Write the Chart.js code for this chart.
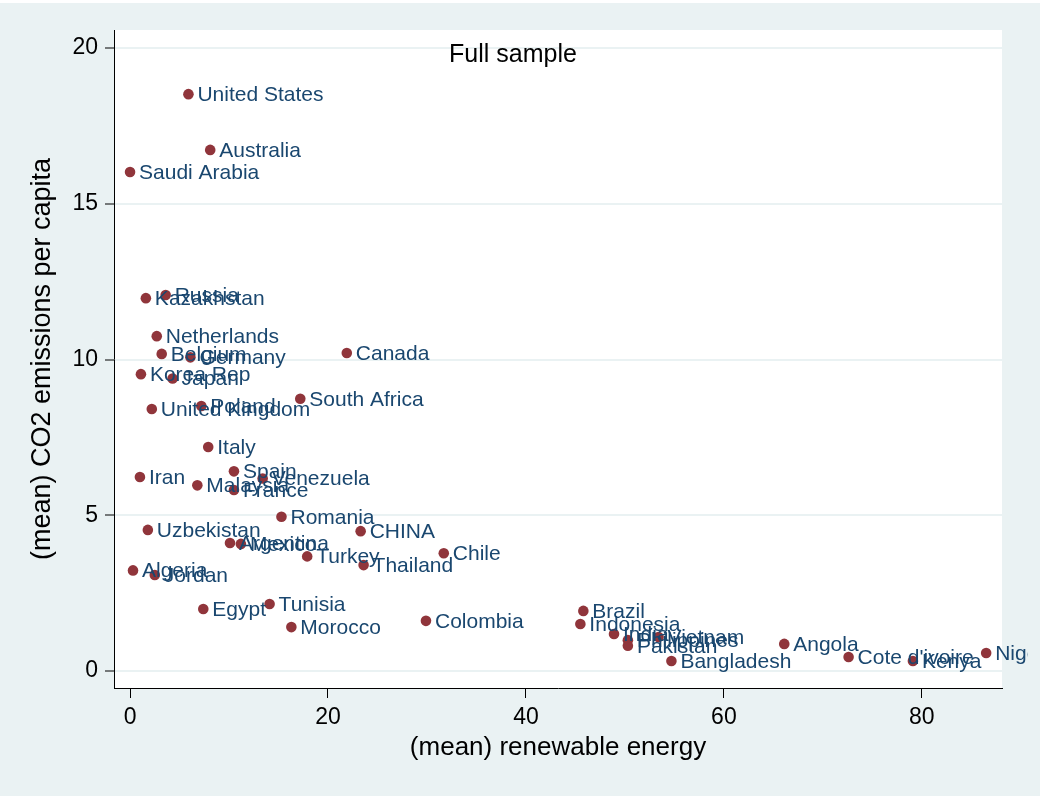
<!DOCTYPE html>
<html>
<head>
<meta charset="utf-8">
<script src="https://cdn.jsdelivr.net/npm/chart.js@4"></script>
<style>
html, body { margin: 0; padding: 0; background: #EAF2F3; }
canvas { display: block; }
</style>
</head>
<body>
<canvas id="co2Chart" width="1045" height="796"></canvas>
<script>
// country names, x = (mean) renewable energy, y = (mean) CO2 per capita
var countries = ["United States", "Australia", "Saudi Arabia", "Russia", "Kazakhstan",
  "Netherlands", "Canada", "Belgium", "Germany", "Korea Rep", "Japan", "South Africa",
  "Poland", "United Kingdom", "Italy", "Spain", "Iran", "Venezuela", "Malaysia", "France",
  "Romania", "Uzbekistan", "CHINA", "Argentina", "Mexico", "Chile", "Turkey", "Thailand",
  "Algeria", "Jordan", "Tunisia", "Egypt", "Brazil", "Colombia", "Indonesia", "Morocco",
  "India", "Vietnam", "Philippines", "Angola", "Pakistan", "Nigeria", "Cote d'ivoire",
  "Bangladesh", "Kenya"];
var renewable = [5.9, 8.1, 0.0, 3.6, 1.6,
  2.7, 21.9, 3.2, 6.1, 1.1, 4.3, 17.2,
  7.2, 2.2, 7.9, 10.5, 1.0, 13.4, 6.8, 10.5,
  15.3, 1.8, 23.3, 10.1, 11.2, 31.7, 17.9, 23.6,
  0.3, 2.5, 14.1, 7.4, 45.8, 29.9, 45.5, 16.3,
  48.9, 53.4, 50.3, 66.1, 50.3, 86.5, 72.6,
  54.7, 79.1];
var co2 = [18.52, 16.73, 16.02, 12.07, 11.97,
  10.75, 10.21, 10.18, 10.07, 9.53, 9.39, 8.74,
  8.51, 8.41, 7.19, 6.41, 6.23, 6.18, 5.96, 5.81,
  4.95, 4.53, 4.49, 4.11, 4.08, 3.78, 3.68, 3.40,
  3.23, 3.08, 2.15, 1.99, 1.93, 1.61, 1.51, 1.41,
  1.19, 1.09, 0.99, 0.87, 0.81, 0.58, 0.45,
  0.32, 0.32];
var xTicks = [0, 20, 40, 60, 80];
var yTicks = [0, 5, 10, 15, 20];

var FONT = "'Liberation Sans', Arial, Helvetica, sans-serif";

var points = [];
for (var i = 0; i < countries.length; i++) {
  points.push({ x: renewable[i], y: co2[i], name: countries[i] });
}

var bgPlugin = {              // graph region + plot region background
  id: 'bg',
  beforeDraw: function (chart) {
    var c = chart.ctx, a = chart.chartArea;
    c.save();
    c.fillStyle = '#EAF2F3';
    c.fillRect(0, 0, chart.width, chart.height);
    c.fillStyle = '#FFFFFF';
    c.fillRect(0, 0, chart.width, 3);
    c.fillRect(chart.width - 5, 0, 5, chart.height);
    c.fillRect(a.left, a.top, a.right - a.left, a.bottom - a.top);
    c.restore();
  }
};

var labelPlugin = {           // marker labels at 3 o'clock
  id: 'mlabels',
  afterDatasetsDraw: function (chart) {
    var c = chart.ctx;
    var meta = chart.getDatasetMeta(0);
    c.save();
    c.beginPath();
    c.rect(0, 0, 1028, chart.height);
    c.clip();
    c.font = '21px ' + FONT;
    c.fillStyle = '#1A476F';
    c.textAlign = 'left';
    c.textBaseline = 'middle';
    meta.data.forEach(function (pt, i) {
      c.fillText(points[i].name, pt.x + 9, pt.y + 1);
    });
    c.restore();
  }
};

var titlePlugin = {           // "Full sample" inside the plot
  id: 'innerTitle',
  afterDraw: function (chart) {
    var c = chart.ctx;
    c.save();
    c.font = '25px ' + FONT;
    c.fillStyle = '#000000';
    c.textAlign = 'center';
    c.textBaseline = 'middle';
    c.fillText('Full sample', 513, 55);
    c.restore();
  }
};

var ctx = document.getElementById('co2Chart').getContext('2d');
var chart = new Chart(ctx, {
  type: 'scatter',
  data: {
    datasets: [{
      data: points,
      backgroundColor: '#90353B',
      borderColor: '#90353B',
      borderWidth: 0,
      pointRadius: 5.3,
      pointHoverRadius: 5.3
    }]
  },
  options: {
    responsive: false,
    animation: false,
    events: [],
    layout: { padding: { top: 30, right: 43, left: 0, bottom: 0 } },
    plugins: { legend: { display: false }, tooltip: { enabled: false } },
    scales: {
      x: {
        type: 'linear',
        min: -1.62,
        max: 88.1,
        afterFit: function (s) { s.height = 108; },
        afterBuildTicks: function (s) { s.ticks = xTicks.map(function (v) { return { value: v }; }); },
        grid: { drawOnChartArea: false, drawTicks: true, tickLength: 10, tickColor: '#000000', tickWidth: 1 },
        border: { display: true, color: '#000000', width: 1 },
        ticks: { color: '#000000', font: { family: FONT, size: 23 }, padding: 6, maxRotation: 0 },
        title: {
          display: true, text: '(mean) renewable energy', color: '#000000',
          font: { family: FONT, size: 26 }, padding: { top: 0, bottom: 33 }
        }
      },
      y: {
        type: 'linear',
        min: -0.546,
        max: 20.58,
        afterFit: function (s) { s.width = 114; },
        afterBuildTicks: function (s) { s.ticks = yTicks.map(function (v) { return { value: v }; }); },
        grid: { drawOnChartArea: true, color: '#EAF2F3', lineWidth: 2, tickLength: 9, tickColor: '#000000', tickWidth: 1 },
        border: { display: true, color: '#000000', width: 1 },
        ticks: { color: '#000000', font: { family: FONT, size: 23 }, padding: 7 },
        title: {
          display: true, text: '(mean) CO2 emissions per capita', color: '#000000',
          font: { family: FONT, size: 27 }, padding: { top: 26, bottom: 0 }
        }
      }
    }
  },
  plugins: [bgPlugin, labelPlugin, titlePlugin]
});
</script>
</body>
</html>
